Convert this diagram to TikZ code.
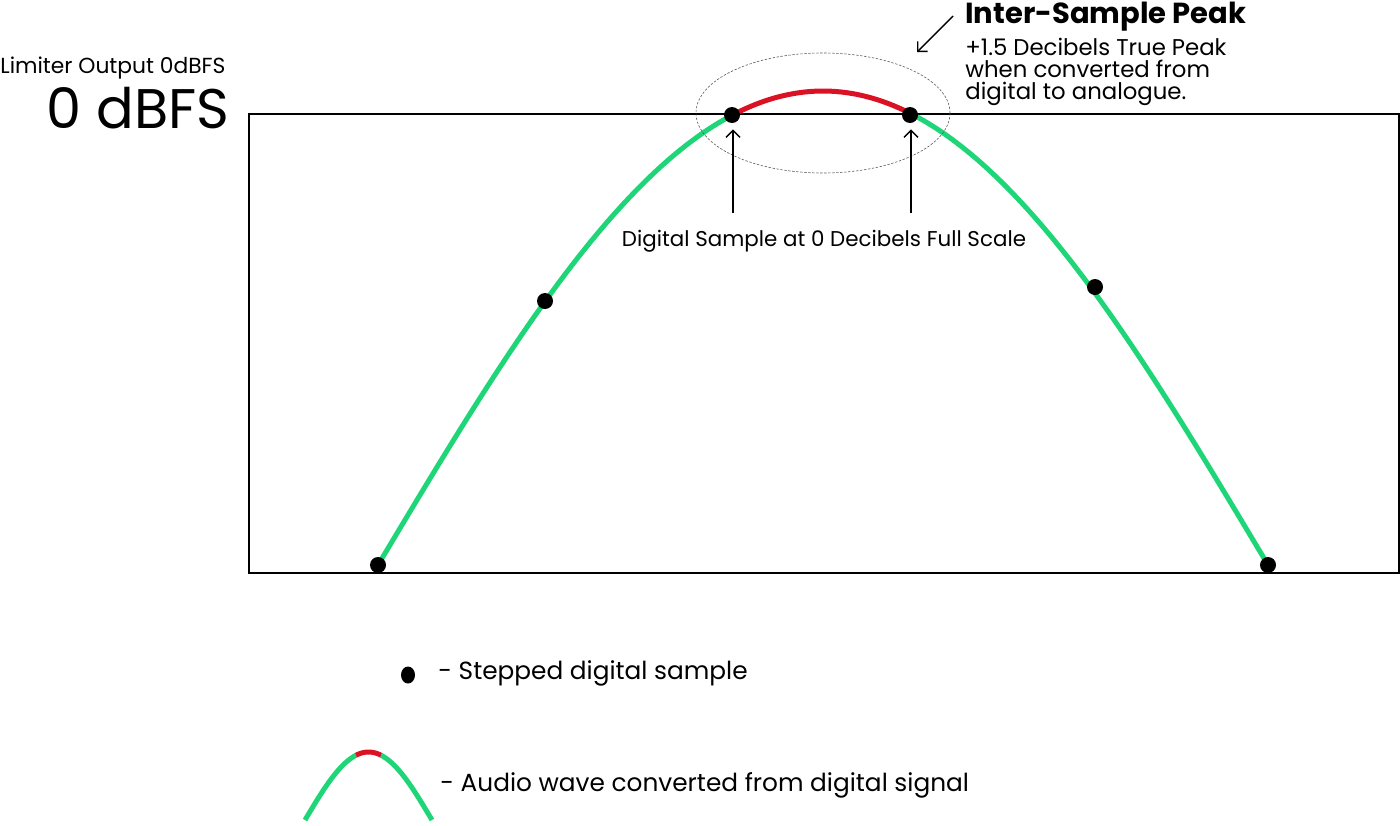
\documentclass[tikz,border=0pt]{standalone}
\usepackage{fontspec}
\setmainfont{Poppins}
\usetikzlibrary{arrows.meta,shapes.geometric}
\definecolor{wavegreen}{RGB}{30,214,120}
\definecolor{wavered}{RGB}{218,18,36}
\definecolor{ringgray}{RGB}{90,90,90}
\begin{document}
\begin{tikzpicture}[x=0.5pt,y=-0.5pt,
  dot/.style={circle,fill=black,inner sep=0pt,minimum size=8pt},
  frame/.style={draw=black,line width=0.9pt},
  wave/.style={line width=2.5pt,wavegreen},
  peak/.style={line width=2.5pt,wavered},
  ptr/.style={line width=0.7pt,-{Straight Barb[length=3.5pt,width=7pt]}},
  ring/.style={draw=ringgray,dash pattern=on 1.2pt off 0.8pt,line width=0.3pt,ellipse,inner sep=0pt,minimum width=127pt,minimum height=60pt},
  lbl/.style={inner sep=0pt,text=black}]
\path[use as bounding box] (0,0) rectangle (1400,825);
% frame
\node[frame,rectangle,inner sep=0pt,minimum width=575pt,minimum height=229.5pt,anchor=north west] (box) at (248,113) {};
% wave
\draw[wave] plot[domain=378:732,samples=80] (\x,{565-474*sin((\x-378)/890*180)});
\draw[wave] plot[domain=910:1268,samples=80] (\x,{565-474*sin((\x-378)/890*180)});
\draw[peak] plot[domain=732:910,samples=40] (\x,{565-474*sin((\x-378)/890*180)});
% samples
\node[dot] (s1) at (378,565) {};
\node[dot] (s2) at (545,301) {};
\node[dot] (s3) at (732,115) {};
\node[dot] (s4) at (910,115) {};
\node[dot] (s5) at (1095,287) {};
\node[dot] (s6) at (1268,565) {};
% ring
\node[ring] (zone) at (823,113) {};
% labels left
\node[lbl,anchor=base west,font=\fontsize{10.9}{12}\selectfont] (lim) at (0,73) {Limiter Output 0dBFS};
\node[lbl,anchor=base east,font=\fontsize{27.9}{32}\selectfont] (zero) at (230,128) {0 dBFS};
% peak label
\node[lbl,anchor=base west,font=\fontsize{14.5}{16}\selectfont\bfseries] (isp) at (965,23) {Inter-Sample Peak};
\node[lbl,anchor=north west,align=left,font=\fontsize{11.4}{11}\selectfont] (isptxt) at (965,38) {+1.5 Decibels True Peak\\when converted from\\digital to analogue.};
\coordinate (d0) at (953,16);
\coordinate (d1) at (917,52);
\draw[ptr] (d0) -- (d1);
% sample arrows
\node[lbl,font=\fontsize{10.7}{12}\selectfont] (dsl) at (824,241) {Digital Sample at 0 Decibels Full Scale};
\coordinate (u3) at (733,213);
\coordinate (u4) at (911,213);
\draw[ptr,shorten >=3pt] (u3) -- (u3 |- s3.south);
\draw[ptr,shorten >=3pt] (u4) -- (u4 |- s4.south);
% legend
\node[ellipse,fill=black,inner sep=0pt,minimum width=7pt,minimum height=8.5pt] (ldot) at (408,675) {};
\node[lbl,anchor=west,font=\fontsize{12.4}{14}\selectfont] (ltxt1) at (438,673) {- Stepped digital sample};
\draw[wave] plot[domain=305:356,samples=40] (\x,{820-68*sin((\x-305)/127*180)});
\draw[wave] plot[domain=381:432,samples=40] (\x,{820-68*sin((\x-305)/127*180)});
\draw[peak] plot[domain=356:381,samples=20] (\x,{820-68*sin((\x-305)/127*180)});
\node[lbl,anchor=west,font=\fontsize{12.4}{14}\selectfont] (ltxt2) at (440,785) {- Audio wave converted from digital signal};
\end{tikzpicture}
\end{document}
